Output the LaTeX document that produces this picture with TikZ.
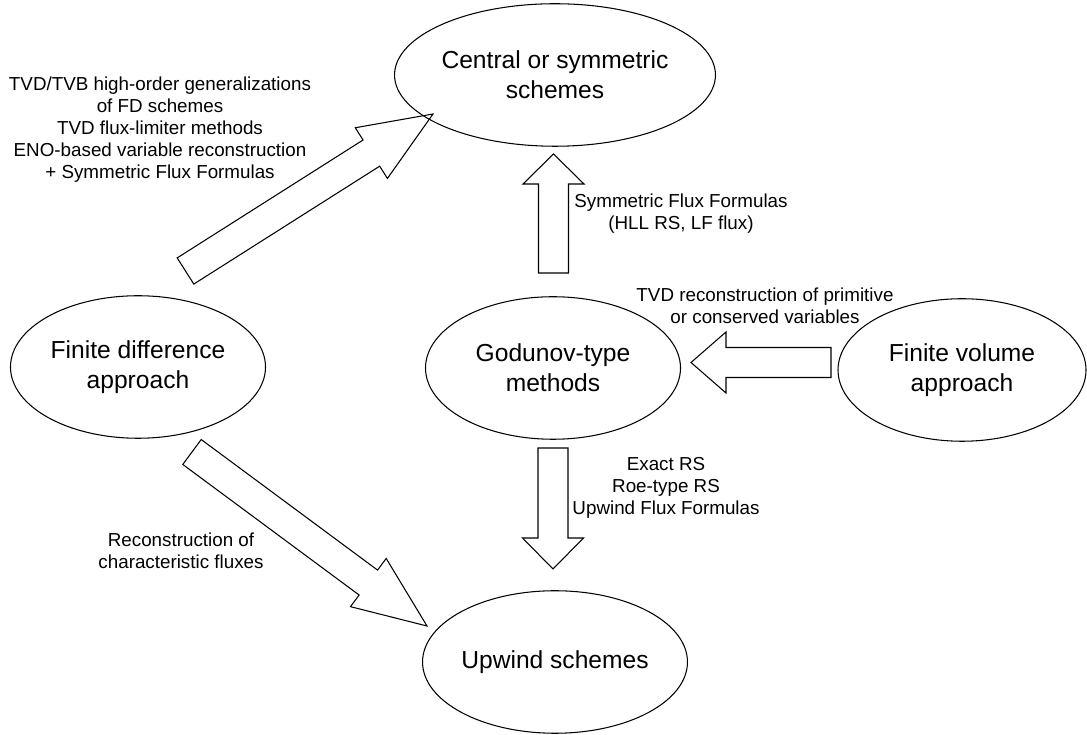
\documentclass[tikz,border=0pt]{standalone}
\usepackage{fontspec}
\setmainfont{Liberation Sans}
\usetikzlibrary{shapes.geometric,calc}
\tikzset{
  scheme/.style={ellipse,draw,line width=0.6pt,minimum width=5.1cm,minimum height=2.85cm,
    inner sep=0pt,align=center,font=\fontsize{14}{17}\selectfont},
  note/.style={align=center,inner sep=0pt,font=\fontsize{10.7}{12.5}\selectfont},
  bigarrow/.style={draw,line width=0.6pt,line join=miter}
}
% hollow block arrow: tail, tip, half shaft, half head, head length
\newcommand{\blockarrow}[5]{%
  \coordinate (#2-base) at ($(#2)!#5!(#1)$);
  \draw[bigarrow] ($(#1)!#3!90:(#2)$) -- ($(#2-base)!#3!90:(#2)$)
    -- ($(#2-base)!#4!90:(#2)$) -- (#2) -- ($(#2-base)!#4!-90:(#2)$)
    -- ($(#2-base)!#3!-90:(#2)$) -- ($(#1)!#3!-90:(#2)$) -- cycle;
}
\begin{document}
\begin{tikzpicture}
  \useasboundingbox (0,0) rectangle (21.74,14.7);
  \node[scheme] (central) at (11.1,13.2) {Central or symmetric\\schemes};
  \node[scheme] (fd) at (2.76,7.36) {Finite difference\\approach};
  \node[scheme] (godunov) at (11.06,7.34) {Godunov-type\\methods};
  \node[scheme,minimum width=4.96cm] (fv) at (19.24,7.3) {Finite volume\\approach};
  \node[scheme] (upwind) at (11.1,1.46) {Upwind schemes};

  \coordinate (fd-out) at (3.71,9.28);
  \coordinate (central-in) at (8.66,12.42);
  \blockarrow{fd-out}{central-in}{0.31cm}{0.6cm}{1.46cm}
  \coordinate (godunov-up) at (11.07,9.24);
  \coordinate (central-bot) at (11.07,11.62);
  \blockarrow{godunov-up}{central-bot}{0.3cm}{0.61cm}{0.6cm}
  \coordinate (fv-out) at (16.62,7.45);
  \coordinate (godunov-in) at (13.82,7.45);
  \blockarrow{fv-out}{godunov-in}{0.3cm}{0.61cm}{0.7cm}
  \coordinate (godunov-down) at (11.06,5.74);
  \coordinate (upwind-top) at (11.06,3.32);
  \blockarrow{godunov-down}{upwind-top}{0.3cm}{0.61cm}{0.62cm}
  \coordinate (fd-low) at (3.84,5.66);
  \coordinate (upwind-in) at (8.54,2.18);
  \blockarrow{fd-low}{upwind-in}{0.31cm}{0.6cm}{1.46cm}

  \node[note] (fdnote) at (3.2,12.1) {TVD/TVB high-order generalizations\\of FD schemes\\TVD flux-limiter methods\\ENO-based variable reconstruction\\+ Symmetric Flux Formulas};
  \node[note] (symnote) at (13.62,10.42) {Symmetric Flux Formulas\\(HLL RS, LF flux)};
  \node[note] (fvnote) at (15.3,8.58) {TVD reconstruction of primitive\\or conserved variables};
  \node[note] (rsnote) at (13.32,4.94) {Exact RS\\Roe-type RS\\Upwind Flux Formulas};
  \node[note] (charnote) at (3.62,3.68) {Reconstruction of\\characteristic fluxes};
\end{tikzpicture}
\end{document}
